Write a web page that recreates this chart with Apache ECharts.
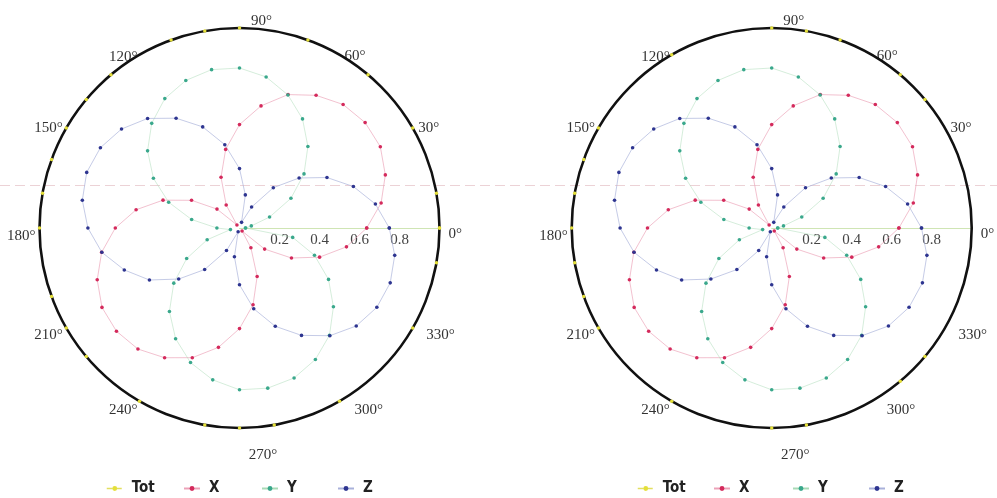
<!DOCTYPE html>
<html>
<head>
<meta charset="utf-8">
<script src="https://cdn.jsdelivr.net/npm/echarts@6/dist/echarts.min.js"></script>
<style>
html,body{margin:0;padding:0;background:#fff;}
#chart{width:997px;height:498px;}
</style>
</head>
<body>
<div id="chart"></div>
<script>
// ---- data ----
const angles = [0,10,20,30,40,50,60,70,80,90,100,110,120,130,140,150,160,170,
                180,190,200,210,220,230,240,250,260,270,280,290,300,310,320,330,340,350];
const totVals = [1,1,1,1,1,1,1,1,1,1,1,1,1,1,1,1,1,1,1,1,1,1,1,1,1,1,1,1,1,1,1,1,1,1,1,1];
const xVals = [0.636,0.719,0.776,0.813,0.820,0.806,0.766,0.710,0.620,0.517,0.399,0.270,0.133,0.020,
               0.147,0.277,0.407,0.525,0.621,0.700,0.757,0.794,0.803,0.790,0.749,0.690,0.606,0.503,
               0.390,0.258,0.114,0.020,0.164,0.300,0.426,0.543];
const yVals = [0.030,0.060,0.160,0.297,0.421,0.532,0.630,0.708,0.767,0.800,0.804,0.785,0.747,0.683,
               0.600,0.497,0.377,0.243,0.113,0.046,0.172,0.305,0.429,0.545,0.639,0.716,0.771,0.809,
               0.813,0.798,0.759,0.700,0.613,0.514,0.399,0.270];
const zVals = [0.749,0.690,0.606,0.505,0.389,0.263,0.121,0.030,0.168,0.297,0.423,0.538,0.634,0.715,
               0.770,0.803,0.813,0.798,0.758,0.699,0.613,0.520,0.397,0.271,0.130,0.020,0.146,0.284,
               0.410,0.523,0.620,0.703,0.762,0.793,0.802,0.788];
const seriesNames = ['Tot','X','Y','Z'];
const angleTicks = [0,30,60,90,120,150,180,210,240,270,300,330];
const radiusTickLabels = [0.2,0.4,0.6,0.8];

// ---- styles ----
const lineColors = {Tot:'#e6e35a', X:'#eca2b8', Y:'#a9dab6', Z:'#a9b1da'};
const lineOpacity = {Tot:0, X:0.75, Y:0.55, Z:0.75};
const dotColors  = {Tot:'#e4df3a', X:'#d42a5c', Y:'#3aa88c', Z:'#2e3590'};
const valuesByName = {Tot: totVals, X: xVals, Y: yVals, Z: zVals};

function toPolar(vals){
  const d = angles.map((a,i)=>[vals[i], a]);
  d.push([vals[0], 360]); // close the loop at the starting point
  return d;
}

const centers = [[239.5,228],[771.7,228]];
const serifFont = '"Liberation Serif","DejaVu Serif",serif';

// angle-label paddings [top, right, bottom, left] (px), relative to ECharts' own anchoring
const labelPad = {
  0:[12,0,0,21], 30:[0,0,0,16], 60:[0,0,7,11], 90:[0,0,26,44],
  120:[0,8,5,0], 150:[0,14,0,0], 180:[16,16,0,0], 210:[15,14,0,0],
  240:[27,8,0,0], 270:[66,0,0,47], 300:[27,0,0,21], 330:[15,0,0,24]
};
const rich = {};
angleTicks.forEach(a => {
  rich['a'+a] = {fontSize:15, lineHeight:12, color:'#333', fontFamily:serifFont, padding:labelPad[a]};
});

const polar = centers.map(c => ({center:c, radius:200}));
const angleAxis = centers.map((c,i) => ({
  polarIndex:i, type:'value', min:0, max:360, interval:30,
  startAngle:0, clockwise:false,
  axisLine:{show:true, lineStyle:{color:'#111', width:2.6}},
  axisTick:{show:false},
  splitLine:{show:false},
  axisLabel:{
    margin:-12, fontSize:15, color:'#333', fontFamily:serifFont,
    rich,
    formatter: v => (angleTicks.indexOf(v) >= 0 ? '{a' + v + '|' + v + '°}' : '')
  }
}));
const radiusAxis = centers.map((c,i) => ({
  polarIndex:i, type:'value', min:0, max:1, interval:0.2,
  axisLine:{show:true, lineStyle:{color:'#cfe5b4', width:1}},
  axisTick:{show:false},
  splitLine:{show:false},
  axisLabel:{
    margin:-5, verticalAlign:'top', align:'center',
    fontSize:15, color:'#444', fontFamily:serifFont,
    formatter: v => {
      const r = Math.round(v*10)/10;
      return radiusTickLabels.indexOf(r) >= 0 ? r.toFixed(1) : '';
    }
  }
}));

const series = [];
centers.forEach((c,pi) => {
  seriesNames.forEach(name => {
    const isTot = name === 'Tot';
    series.push({
      name, type:'line', coordinateSystem:'polar', polarIndex:pi,
      data: toPolar(valuesByName[name]),
      symbol:'circle', symbolSize: isTot ? 3.5 : 3.6,
      showSymbol:true,
      itemStyle:{color: dotColors[name]},
      lineStyle: {color: lineColors[name], width: isTot ? 1 : 0.9,
                  type: isTot ? 'dashed' : 'solid', opacity: lineOpacity[name]},
      z: isTot ? 5 : 3,
      emphasis:{disabled:true},
      silent:true
    });
  });
});

// legends: one per item so the spacing matches the reference
const legendLefts = [[101,178,256,332],[632,708,787,863]];
const legendItem = {
  Tot:{name:'Tot', lineStyle:{color:'#e2df60', type:'dashed', width:1.5, opacity:1}},
  X:{name:'X', lineStyle:{opacity:1}}, Y:{name:'Y', lineStyle:{opacity:1}}, Z:{name:'Z', lineStyle:{opacity:1}}
};
const legend = [];
legendLefts.forEach(row => {
  row.forEach((lx, i) => {
    legend.push({
      left: lx, top: 476, orient:'horizontal', itemWidth:16, itemHeight:6,
      data:[legendItem[seriesNames[i]]],
      textStyle:{fontSize:15, fontWeight:'bold', color:'#222',
                 fontFamily:'"DejaVu Sans Condensed","DejaVu Sans",sans-serif',
                 padding:[0,0,0,4]},
      selectedMode:false
    });
  });
});

const chart = echarts.init(document.getElementById('chart'), null, {renderer:'canvas'});
chart.setOption({
  animation:false,
  backgroundColor:'#fff',
  polar, angleAxis, radiusAxis, legend, series,
  graphic:[{
    type:'line', silent:true, z:0,
    shape:{x1:0, y1:185.5, x2:997, y2:185.5},
    style:{stroke:'#ecd2d6', lineWidth:1, lineDash:[10,5]}
  }]
});
</script>
</body>
</html>
